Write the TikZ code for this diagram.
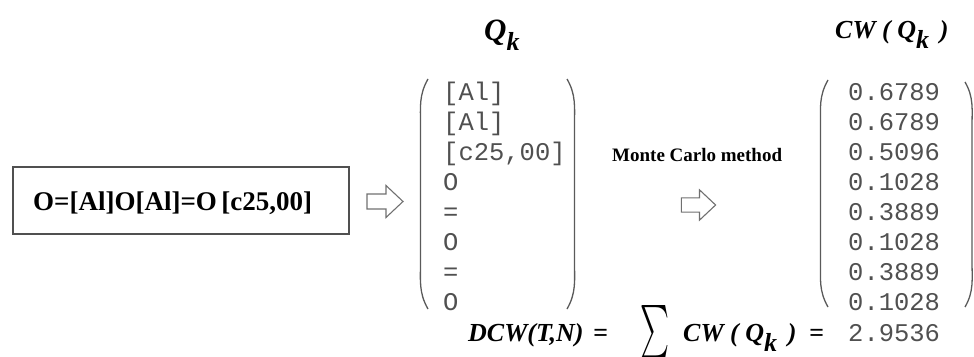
\documentclass[tikz,border=0pt]{standalone}
\usepackage{fontspec}
\setmainfont{Liberation Serif}
\setmonofont{Liberation Mono}
\newcommand\fsz[1]{\fontsize{#1}{#1}\selectfont}
\definecolor{monogray}{HTML}{505050}
\definecolor{parengray}{HTML}{5A5A5A}
\definecolor{arrowgray}{HTML}{707070}
\definecolor{boxgray}{HTML}{505050}
\begin{document}
\begin{tikzpicture}[x=1pt,y=-1pt,
  mono/.style={anchor=base west, inner sep=0pt, text=monogray, font=\fsz{25.5}\ttfamily},
  paren/.style={draw=parengray, line width=1.3pt},
  arrowline/.style={draw=arrowgray, line width=1.1pt, line join=miter},
  bolditext/.style={anchor=base west, inner sep=0pt, font=\fsz{26}\bfseries\itshape},
  hollowarrow/.pic={\path[arrowline] (-18,-7.5) -- (1,-7.5) -- (1,-16) -- (18,0) -- (1,16) -- (1,7.5) -- (-18,7.5) -- cycle;}]
\useasboundingbox (0,0) rectangle (974,356);
% input box
\node[draw=boxgray, line width=1.1pt, minimum width=336pt, minimum height=67pt, inner sep=0pt] (box) at (181,200.5) {};
\node[inner sep=0pt, anchor=base west, font=\fsz{27}\bfseries] (smiles) at (33,210) {O=[Al]O[Al]=O\,[c25,00]};
% arrows
\pic at (385,201.5) {hollowarrow};
\pic[scale=0.95] at (698.5,205) {hollowarrow};
% titles
\node[inner sep=0pt, anchor=base west, font=\fsz{31}\bfseries\itshape] (qk) at (484,40) {Q\raisebox{-10pt}{\fsz{26}k}};
\node[bolditext] (cwqk) at (835,38) {CW ( Q\raisebox{-10pt}{k}\, )};
% Monte Carlo
\node[inner sep=0pt, anchor=base west, font=\fsz{19}\bfseries] (mc) at (612,161) {Monte Carlo method};
% left matrix
\path[paren] (428,79) to[out=240,in=90] (420.5,125) -- (420.5,262) to[out=270,in=120] (428,309);
\path[paren] (567,79) to[out=300,in=90] (574.5,125) -- (574.5,262) to[out=270,in=60] (567,309);
\node[mono] (q1) at (443,100) {[Al]};
\node[mono] (q2) at (443,130) {[Al]};
\node[mono] (q3) at (443,160) {[c25,00]};
\node[mono] (q4) at (443,190) {O};
\node[mono] (q5) at (443,220) {=};
\node[mono] (q6) at (443,250) {O};
\node[mono] (q7) at (443,280) {=};
\node[mono] (q8) at (443,310) {O};
% right matrix
\path[paren] (828,80) to[out=240,in=90] (820.5,126) -- (820.5,261) to[out=270,in=120] (828,307);
\path[paren] (965,82) to[out=300,in=90] (972,127) -- (972,261) to[out=270,in=60] (965,307);
\node[mono] (c1) at (848,100) {0.6789};
\node[mono] (c2) at (848,130) {0.6789};
\node[mono] (c3) at (848,160) {0.5096};
\node[mono] (c4) at (848,190) {0.1028};
\node[mono] (c5) at (848,220) {0.3889};
\node[mono] (c6) at (848,250) {0.1028};
\node[mono] (c7) at (848,280) {0.3889};
\node[mono] (c8) at (848,310) {0.1028};
% bottom formula
\node[bolditext] (dcw) at (468,341) {DCW(T,N)};
\node[bolditext] (eq1) at (593,341) {=};
\node[inner sep=0pt] (sum) at (655,332.5) {\resizebox{29pt}{40pt}{$\sum$}};
\node[bolditext] (cw2) at (683,341) {CW ( Q\raisebox{-10pt}{k}\, )};
\node[bolditext] (eq2) at (809,341) {=};
\node[mono] (total) at (848,341) {2.9536};
\end{tikzpicture}
\end{document}
